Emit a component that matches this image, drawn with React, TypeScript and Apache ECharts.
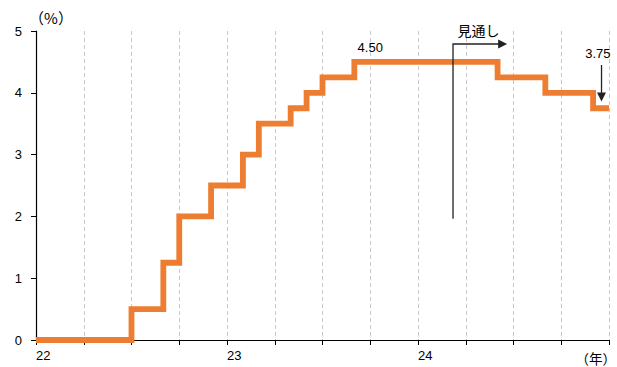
import React, { useEffect, useRef } from "react";
import * as echarts from "echarts";

// Month index from Jan 2022 (0) where each policy-rate level begins
const stepMonths = [0, 6, 8, 9, 11, 13, 14, 16, 17, 18, 20, 29, 32, 35, 36];
// Rate (%) from that month on
const rates = [0, 0.5, 1.25, 2, 2.5, 3, 3.5, 3.75, 4, 4.25, 4.5, 4.25, 4, 3.75, 3.75];
// Year tick labels (month index -> label)
const yearTickMonths = [0, 12, 24];
const yearTickLabels = ["22", "23", "24"];
const yTicks = [0, 1, 2, 3, 4, 5];

const FONT = "'Liberation Sans', Arial, 'Noto Sans CJK JP', sans-serif";
const JFONT = "'Noto Sans CJK JP', 'Liberation Sans', sans-serif";

export default function App() {
  const ref = useRef<HTMLDivElement>(null);
  useEffect(() => {
    if (!ref.current) return;
    const chart = echarts.init(ref.current, null, { renderer: "svg" });
    const data = stepMonths.map((m, i) => [m, rates[i]]);
    chart.setOption({
      animation: false,
      grid: { left: 36, right: 8, top: 31, bottom: 27, containLabel: false },
      xAxis: {
        type: "value",
        min: 0,
        max: 36,
        interval: 3,
        axisLine: { show: true, lineStyle: { color: "#000", width: 1.2 } },
        axisTick: { show: true, length: 5, lineStyle: { color: "#000" } },
        axisLabel: {
          show: true,
          align: "left",
          margin: 9,
          fontSize: 13,
          color: "#000",
          fontFamily: FONT,
          formatter: (v: number) => {
            const i = yearTickMonths.indexOf(Math.round(v));
            return i >= 0 ? yearTickLabels[i] : "";
          },
        },
        splitLine: { show: true, lineStyle: { color: "#c8c8c8", type: [4, 3], width: 1 } },
      },
      yAxis: {
        type: "value",
        min: 0,
        max: 5,
        interval: 1,
        axisLine: { show: true, lineStyle: { color: "#000", width: 1.2 } },
        axisTick: { show: true, length: 5, lineStyle: { color: "#000" } },
        axisLabel: {
          margin: 14,
          fontSize: 13,
          color: "#000",
          fontFamily: FONT,
          formatter: (v: number) => (yTicks.includes(v) ? String(v) : ""),
        },
        splitLine: { show: false },
      },
      series: [
        {
          type: "line",
          step: "end",
          data,
          symbol: "none",
          clip: false,
          z: 5,
          lineStyle: { color: "#ED7D31", width: 5.8, join: "miter", cap: "butt" },
        },
      ],
    });

    const px = (m: number, v: number) => chart.convertToPixel({ gridIndex: 0 }, [m, v]) as number[];
    const lineColor = "#222";

    const forecastBase = px(26.2, 1.96);
    const forecastTop = px(26.2, 4.79);
    const forecastEnd = px(29.6, 4.79);
    const label450 = px(21, 4.74);
    const labelMitoshi = px(27.8, 5.02);
    const label375 = px(35.3, 4.64);
    const arrowTop = px(35.53, 4.45);
    const arrowTip = px(35.53, 3.86);

    chart.setOption({
      graphic: [
        {
          type: "text",
          x: 51,
          y: 17,
          style: { text: "（%）", fill: "#000", font: `15px ${JFONT}`, align: "center", verticalAlign: "middle" },
        },
        {
          type: "text",
          x: 616,
          y: 358,
          style: { text: "（年）", fill: "#000", font: `13.5px ${JFONT}`, align: "right", verticalAlign: "middle" },
        },
        {
          type: "polyline",
          shape: { points: [forecastBase, forecastTop, [forecastEnd[0] - 7, forecastEnd[1]]] },
          style: { stroke: lineColor, lineWidth: 1.3, fill: "none" },
          z: 10,
        },
        {
          type: "polygon",
          shape: {
            points: [
              [forecastEnd[0], forecastEnd[1]],
              [forecastEnd[0] - 9, forecastEnd[1] - 4.5],
              [forecastEnd[0] - 9, forecastEnd[1] + 4.5],
            ],
          },
          style: { fill: lineColor },
          z: 10,
        },
        {
          type: "text",
          x: labelMitoshi[0],
          y: labelMitoshi[1],
          style: { text: "見通し", fill: "#000", font: `14px ${JFONT}`, align: "center", verticalAlign: "middle" },
          z: 10,
        },
        {
          type: "text",
          x: label450[0],
          y: label450[1],
          style: { text: "4.50", fill: "#000", font: `13px ${FONT}`, align: "center", verticalAlign: "middle" },
          z: 10,
        },
        {
          type: "text",
          x: label375[0],
          y: label375[1],
          style: { text: "3.75", fill: "#000", font: `13px ${FONT}`, align: "center", verticalAlign: "middle" },
          z: 10,
        },
        {
          type: "line",
          shape: { x1: arrowTop[0], y1: arrowTop[1], x2: arrowTip[0], y2: arrowTip[1] - 7 },
          style: { stroke: lineColor, lineWidth: 1.3 },
          z: 10,
        },
        {
          type: "polygon",
          shape: {
            points: [
              [arrowTip[0], arrowTip[1]],
              [arrowTip[0] - 4.5, arrowTip[1] - 9],
              [arrowTip[0] + 4.5, arrowTip[1] - 9],
            ],
          },
          style: { fill: lineColor },
          z: 10,
        },
      ],
    });

    return () => chart.dispose();
  }, []);

  return <div ref={ref} style={{ width: 617, height: 367, position: "absolute", left: 0, top: 0, background: "#fff" }} />;
}
